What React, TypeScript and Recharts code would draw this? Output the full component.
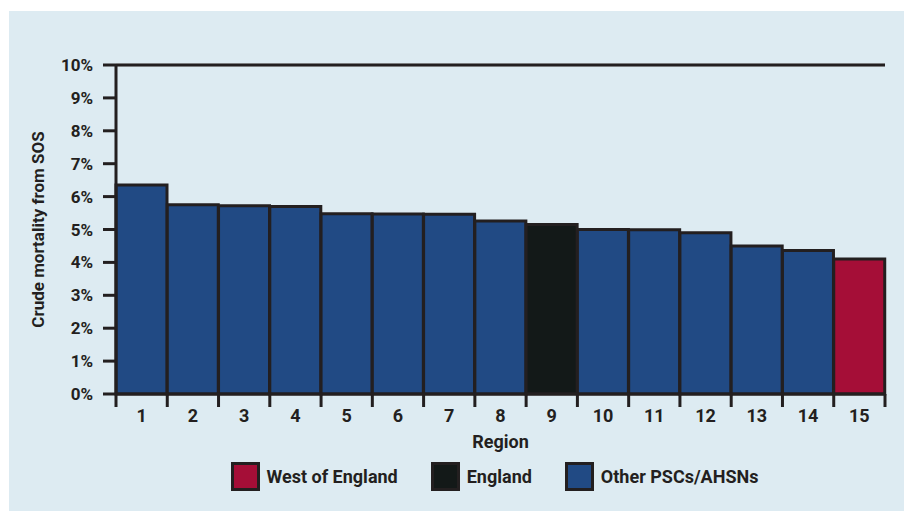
import React from 'react';
import { BarChart, Bar, XAxis, YAxis, CartesianGrid, ReferenceLine, Cell } from 'recharts';

// Region numbers along the x axis
const regions = ['1', '2', '3', '4', '5', '6', '7', '8', '9', '10', '11', '12', '13', '14', '15'];
// Crude mortality from SOS, percent
const mortality = [6.35, 5.75, 5.72, 5.7, 5.48, 5.47, 5.46, 5.26, 5.15, 5.0, 4.99, 4.9, 4.5, 4.36, 4.1];
// Which legend group each region belongs to
const groups = [
  'other', 'other', 'other', 'other', 'other', 'other', 'other', 'other',
  'england', 'other', 'other', 'other', 'other', 'other', 'west',
];
const yTicks = [0, 1, 2, 3, 4, 5, 6, 7, 8, 9, 10];

const legendItems = [
  { key: 'west', label: 'West of England' },
  { key: 'england', label: 'England' },
  { key: 'other', label: 'Other PSCs/AHSNs' },
];

const colors: Record<string, string> = {
  west: '#a50e37',
  england: '#131918',
  other: '#214a84',
};

const INK = '#231f20';
const FONT = 'Roboto, "DejaVu Sans", sans-serif';

const data = regions.map((r, i) => ({ region: r, value: mortality[i], group: groups[i] }));

const CHART_W = 895;
const CHART_H = 500;
const MARGIN = { top: 54, right: 19, left: 0, bottom: 87 };
const Y_WIDTH = 107;
const PLOT_W = CHART_W - MARGIN.left - MARGIN.right - Y_WIDTH;

// x tick: tick marks sit on the category boundaries, label in the middle
const RegionTick = (props: any) => {
  const { x, y, payload, index, visibleTicksCount } = props;
  const count = visibleTicksCount || regions.length;
  const half = PLOT_W / count / 2;
  const isLast = index === count - 1;
  return (
    <g>
      <line x1={x - half} x2={x - half} y1={y} y2={y + 13} stroke={INK} strokeWidth={3} />
      {isLast && <line x1={x + half} x2={x + half} y1={y} y2={y + 13} stroke={INK} strokeWidth={3} />}
      <text x={x} y={y + 28} textAnchor="middle" fill={INK} fontSize={18} fontWeight={700} fontFamily={FONT}>
        {payload.value}
      </text>
    </g>
  );
};

const YLabel = (props: any) => {
  const { viewBox } = props;
  const cx = viewBox.x + 29;
  const cy = viewBox.y + viewBox.height / 2;
  return (
    <text
      x={cx}
      y={cy}
      transform={`rotate(-90, ${cx}, ${cy})`}
      textAnchor="middle"
      dominantBaseline="central"
      fill={INK}
      fontSize={17}
      fontWeight={700}
      fontFamily={FONT}
    >
      Crude mortality from SOS
    </text>
  );
};

export default function App() {
  return (
    <div style={{ position: 'absolute', left: 0, top: 0, width: 904, height: 511, background: '#fff' }}>
      <div style={{ position: 'absolute', left: 9, top: 11, width: CHART_W, height: CHART_H, background: '#ddebf2' }}>
        <BarChart width={CHART_W} height={CHART_H} data={data} margin={MARGIN} barCategoryGap={0}>
          <CartesianGrid vertical={false} stroke="#cfd1d3" strokeWidth={3} />
          <XAxis
            dataKey="region"
            tick={<RegionTick />}
            tickLine={false}
            tickSize={0}
            tickMargin={0}
            interval={0}
            height={30}
            axisLine={{ stroke: INK, strokeWidth: 3 }}
            label={{
              value: 'Region',
              position: 'insideBottom',
              offset: -24,
              fill: INK,
              fontSize: 18,
              fontWeight: 700,
              fontFamily: FONT,
            }}
          />
          <YAxis
            yAxisId="left"
            domain={[0, 10]}
            ticks={yTicks}
            interval={0}
            width={Y_WIDTH}
            tickFormatter={(v: number) => `${v}%`}
            tickSize={13}
            tickMargin={10}
            tickLine={{ stroke: INK, strokeWidth: 3 }}
            axisLine={{ stroke: INK, strokeWidth: 3 }}
            tick={{ fill: INK, fontSize: 17, fontWeight: 700, fontFamily: FONT }}
            label={<YLabel />}
          />
          <YAxis
            yAxisId="right"
            orientation="right"
            domain={[0, 10]}
            width={0}
            tick={false}
            tickLine={false}
            axisLine={{ stroke: INK, strokeWidth: 3 }}
          />
          <ReferenceLine yAxisId="left" y={10} stroke={INK} strokeWidth={3} />
          <Bar yAxisId="left" dataKey="value" stroke={INK} strokeWidth={3} isAnimationActive={false}>
            {data.map((d) => (
              <Cell key={d.region} fill={colors[d.group]} />
            ))}
          </Bar>
        </BarChart>
        <div
          style={{
            position: 'absolute',
            left: 107,
            width: PLOT_W - 12,
            top: 451,
            height: 29,
            display: 'flex',
            justifyContent: 'center',
            alignItems: 'center',
            gap: 33,
            fontFamily: FONT,
            fontWeight: 700,
            fontSize: 18,
            color: INK,
          }}
        >
          {legendItems.map((it) => (
            <div key={it.key} style={{ display: 'flex', alignItems: 'center', gap: 7 }}>
              <div
                style={{
                  width: 23,
                  height: 23,
                  background: colors[it.key],
                  border: `3px solid ${INK}`,
                }}
              />
              <span>{it.label}</span>
            </div>
          ))}
        </div>
      </div>
    </div>
  );
}
